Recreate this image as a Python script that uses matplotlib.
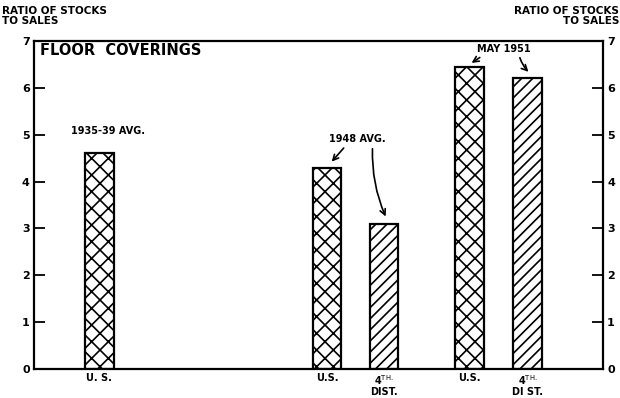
import matplotlib.pyplot as plt
from matplotlib import transforms
import numpy as np

plt.rcParams['font.family'] = ['DejaVu Sans']
plt.rcParams['hatch.linewidth'] = 1.2

# data
positions = [2.3, 10.3, 12.3, 15.3, 17.35]
ratios = [4.6, 4.3, 3.1, 6.45, 6.2]
hatches = ['xx', 'xx', '///', 'xx', '///']
bar_labels = ['U. S.', 'U.S.', '4$^{\\mathrm{TH.}}$\nDIST.', 'U.S.', '4$^{\\mathrm{TH.}}$\nDI ST.']
y_ticks = [0, 1, 2, 3, 4, 5, 6, 7]

fig = plt.figure(figsize=(6.2, 3.98), dpi=100)
ax = fig.add_axes([34 / 620, 29 / 398, 569 / 620, 328 / 398])

for x, v, h in zip(positions, ratios, hatches):
    ax.bar(x, v, width=1.0, facecolor='white', edgecolor='black', hatch=h, linewidth=1.6)

ax.set_xlim(0, 20)
ax.set_ylim(0, 7)
for s in ax.spines.values():
    s.set_linewidth(1.6)

ax.set_xticks([])
ax.set_yticks(y_ticks)
ax.tick_params(axis='y', direction='in', length=8, width=1.3, labelsize=8,
               left=True, right=True, labelleft=True, labelright=True, pad=3)
for t in ax.get_yticklabels():
    t.set_fontweight('bold')

trans = transforms.blended_transform_factory(ax.transData, ax.transAxes)
for x, lab in zip(positions, bar_labels):
    ax.text(x, -0.012, lab, transform=trans, ha='center', va='top', fontsize=7,
            fontweight='bold', linespacing=1.0)

ax.text(0.2, 6.8, 'FLOOR  COVERINGS', fontsize=10.5, fontweight='bold', va='center', ha='left')

ax.text(2.6, 5.08, '1935-39 AVG.', fontsize=7, fontweight='bold', ha='center', va='center')

ax.text(11.35, 4.9, '1948 AVG.', fontsize=7, fontweight='bold', ha='center', va='center')
ax.annotate('', xy=(10.4, 4.38), xytext=(10.95, 4.76),
            arrowprops=dict(arrowstyle='->', lw=1.2, color='black'))
ax.annotate('', xy=(12.4, 3.2), xytext=(11.9, 4.76),
            arrowprops=dict(arrowstyle='->', lw=1.2, color='black',
                            connectionstyle='arc3,rad=0.12'))

ax.text(16.5, 6.83, 'MAY 1951', fontsize=7, fontweight='bold', ha='center', va='center')
ax.annotate('', xy=(15.3, 6.5), xytext=(15.75, 6.68),
            arrowprops=dict(arrowstyle='->', lw=1.2, color='black'))
ax.annotate('', xy=(17.45, 6.3), xytext=(17.05, 6.7),
            arrowprops=dict(arrowstyle='->', lw=1.2, color='black',
                            connectionstyle='arc3,rad=0.15'))

fig.text(2 / 620, 1 - 16 / 398, 'RATIO OF STOCKS\nTO SALES', fontsize=7.5, fontweight='bold',
         ha='left', va='center', linespacing=0.95)
fig.text(1 - 1 / 620, 1 - 16 / 398, 'RATIO OF STOCKS\nTO SALES', fontsize=7.5, fontweight='bold',
         ha='right', va='center', multialignment='right', linespacing=0.95)

fig.savefig('out.png', dpi=100)
